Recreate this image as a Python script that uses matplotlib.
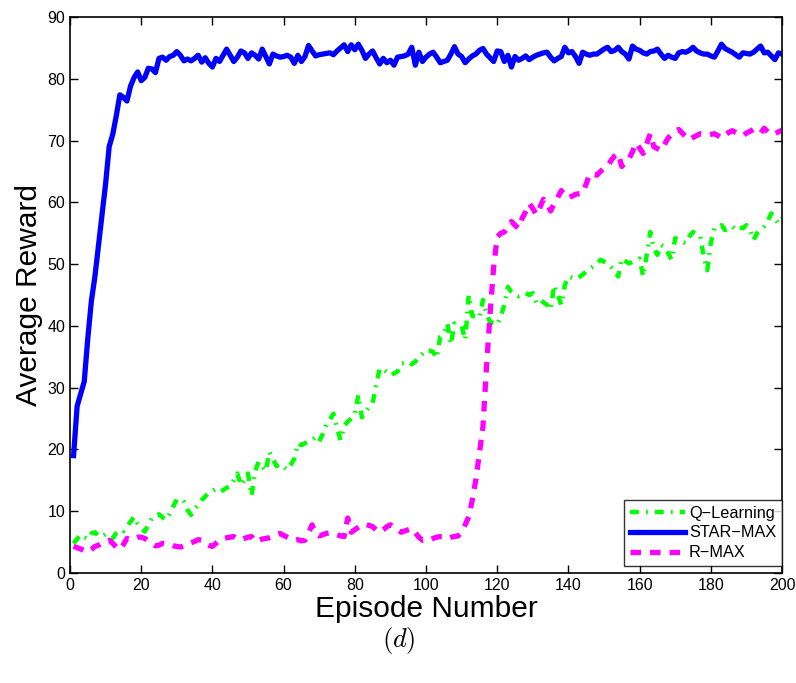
import matplotlib
matplotlib.use("Agg")
import matplotlib.pyplot as plt
import numpy as np

plt.rcParams['font.family'] = ['Liberation Sans', 'DejaVu Sans']
plt.rcParams['mathtext.fontset'] = 'cm'

episodes = list(range(1, 201))

star_max = [
    19.0, 27.0, 29.0, 31.0, 38.0, 44.0, 48.0, 53.0, 58.0, 63.0,
    69.0, 71.0, 74.0, 77.4, 77.0, 76.4, 78.8, 80.2, 81.1, 79.7,
    80.2, 81.7, 81.6, 81.0, 83.3, 83.5, 83.0, 83.6, 83.8, 84.4,
    83.8, 82.9, 83.2, 82.9, 83.3, 83.8, 82.7, 83.4, 82.5, 81.9,
    83.3, 82.8, 83.8, 84.8, 83.8, 82.8, 83.5, 84.5, 84.2, 83.3,
    84.2, 83.8, 83.2, 84.8, 83.6, 82.4, 84.0, 83.7, 83.5, 83.6,
    83.8, 83.5, 82.5, 83.8, 82.8, 83.6, 85.4, 84.5, 83.7, 83.9,
    84.0, 84.1, 84.2, 83.9, 84.5, 85.0, 85.5, 84.4, 85.5, 84.7,
    85.6, 84.6, 83.3, 84.0, 84.5, 83.4, 82.4, 83.3, 82.6, 83.0,
    82.2, 83.5, 83.6, 83.7, 84.0, 85.1, 82.2, 84.3, 82.8, 83.5,
    84.0, 84.3, 83.5, 82.6, 82.8, 83.0, 84.0, 85.2, 84.0, 83.6,
    82.6, 83.2, 83.7, 84.0, 84.6, 84.9, 84.0, 83.4, 82.8, 84.5,
    84.4, 82.8, 83.8, 81.9, 83.6, 83.0, 83.3, 83.7, 83.1, 83.5,
    83.8, 84.0, 84.2, 84.3, 83.5, 82.9, 83.3, 83.6, 85.1, 84.2,
    84.4, 83.6, 82.5, 84.3, 84.0, 83.8, 84.0, 84.0, 84.4, 84.8,
    85.1, 84.4, 84.6, 85.1, 84.4, 84.0, 83.2, 85.3, 84.8, 84.6,
    84.2, 84.0, 84.4, 84.5, 84.8, 84.0, 83.3, 83.8, 83.5, 83.3,
    84.2, 84.4, 84.3, 84.6, 85.1, 84.5, 84.2, 84.0, 84.0, 83.7,
    83.5, 84.5, 85.6, 84.9, 84.6, 84.3, 83.9, 83.5, 84.2, 84.1,
    84.0, 84.3, 84.8, 85.3, 84.2, 84.3, 83.7, 83.1, 84.2, 84.0,
]

q_learning = [
    4.8, 5.5, 6.2, 5.8, 5.5, 6.4, 6.6, 6.0, 5.9, 6.3,
    5.8, 5.6, 6.5, 7.0, 6.8, 7.6, 8.3, 9.1, 8.0, 7.3,
    6.7, 7.8, 8.9, 9.3, 9.5, 9.0, 8.6, 9.6, 10.8, 11.9,
    12.0, 11.5, 10.2, 9.4, 10.3, 11.0, 11.8, 12.4, 13.0, 13.3,
    13.6, 13.2, 13.4, 13.8, 14.0, 15.0, 16.1, 14.2, 15.0, 16.1,
    12.5, 16.5, 18.0, 17.2, 16.5, 19.6, 18.5, 17.3, 17.6, 17.2,
    16.7, 17.5, 18.5, 21.0, 20.7, 21.0, 21.3, 21.5, 22.0, 21.3,
    22.5, 24.0, 24.8, 25.8, 23.5, 21.5, 23.8, 24.5, 25.0, 25.8,
    28.8, 25.2, 26.0, 26.9, 27.5, 30.4, 33.1, 33.0, 32.5, 32.0,
    32.3, 32.6, 33.9, 34.0, 34.2, 33.8, 34.2, 35.0, 35.5, 36.1,
    36.0, 35.8, 34.8, 38.3, 38.8, 40.4, 37.0, 40.4, 40.2, 40.0,
    37.7, 45.0, 41.6, 41.5, 41.3, 44.2, 42.0, 40.6, 40.5, 40.2,
    41.5, 43.4, 46.3, 45.5, 45.0, 44.8, 45.0, 45.3, 45.0, 45.3,
    43.7, 44.2, 43.8, 43.4, 42.6, 46.6, 45.0, 43.4, 46.6, 48.0,
    47.8, 47.6, 47.9, 48.3, 48.8, 49.3, 49.6, 50.0, 50.7, 50.4,
    50.1, 49.5, 48.8, 48.0, 50.9, 50.5, 50.1, 50.4, 50.7, 50.9,
    48.0, 51.5, 55.2, 52.5, 51.5, 53.1, 52.8, 51.8, 50.7, 54.2,
    53.8, 53.6, 53.4, 54.5, 55.2, 54.9, 54.6, 51.2, 49.0, 53.4,
    55.8, 56.0, 56.3, 55.5, 55.8, 56.1, 55.6, 56.0, 55.8, 56.3,
    55.5, 53.9, 55.0, 55.6, 56.1, 57.0, 58.2, 57.4, 56.6, 57.5,
]

r_max = [
    4.3, 4.1, 3.9, 3.6, 3.4, 3.8, 4.3, 4.5, 4.9, 5.1,
    5.3, 4.8, 4.2, 3.8, 4.6, 5.6, 5.4, 5.6, 5.8, 5.8,
    5.6, 5.2, 4.8, 4.4, 4.5, 4.8, 4.7, 4.6, 4.4, 4.3,
    4.2, 4.4, 4.6, 4.9, 5.1, 5.4, 5.3, 4.8, 4.5, 4.3,
    4.8, 5.3, 5.6, 5.7, 5.8, 5.9, 5.5, 5.4, 5.6, 5.8,
    5.9, 5.1, 5.3, 5.5, 5.6, 5.7, 5.9, 6.2, 6.4, 6.1,
    5.8, 5.5, 5.3, 5.4, 5.2, 5.3, 6.5, 7.8, 6.4, 6.0,
    6.2, 6.4, 6.5, 6.4, 6.2, 6.0, 5.9, 8.9, 6.6, 7.0,
    7.4, 7.8, 7.9, 7.7, 7.5, 7.0, 6.6, 7.0, 7.5, 7.8,
    7.4, 7.0, 6.6, 6.8, 7.0, 7.2, 6.5, 5.8, 5.3, 5.4,
    5.3, 5.6, 5.8, 5.9, 5.9, 5.6, 5.8, 5.9, 6.0, 6.6,
    7.8, 9.1, 11.8, 15.1, 19.4, 23.7, 33.4, 42.0, 49.5, 54.4,
    55.0, 55.2, 56.0, 56.9, 56.3, 55.8, 57.4, 58.5, 59.8, 59.0,
    58.0, 59.2, 60.5, 59.8, 58.6, 59.8, 60.8, 61.9, 61.2, 60.7,
    61.0, 61.3, 61.4, 61.5, 63.0, 64.6, 64.5, 64.4, 65.0, 65.5,
    65.8, 66.8, 67.5, 67.9, 65.8, 66.5, 67.0, 68.2, 69.6, 68.8,
    67.9, 69.5, 71.1, 69.0, 68.7, 68.4, 69.4, 70.4, 71.0, 71.5,
    71.8, 71.2, 70.6, 70.1, 70.5, 70.8, 71.1, 71.0, 70.9, 71.0,
    71.1, 70.8, 70.4, 70.9, 71.3, 71.6, 71.3, 71.0, 70.8, 71.2,
    71.5, 71.8, 71.5, 71.2, 72.0, 71.4, 71.0, 71.1, 71.4, 71.7,
]

series_labels = ['Q\u2212Learning', 'STAR\u2212MAX', 'R\u2212MAX']
x_ticks = [0, 20, 40, 60, 80, 100, 120, 140, 160, 180, 200]
y_ticks = [0, 10, 20, 30, 40, 50, 60, 70, 80, 90]

fig = plt.figure(figsize=(7.96, 6.83), dpi=100)
ax = fig.add_axes([70 / 796, 1 - 573 / 683, 712 / 796, 556 / 683])

ax.plot(episodes, q_learning, color='#00ff00', linestyle='-.', linewidth=3.2,
        dashes=(2.0, 1.6, 0.4, 1.6), label=series_labels[0])
ax.plot(episodes, star_max, color='#0000ff', linestyle='-', linewidth=3.8,
        label=series_labels[1])
ax.plot(episodes, r_max, color='#ff00ff', linestyle='--', linewidth=3.8,
        dashes=(2.0, 1.7), label=series_labels[2])

ax.set_xlim(0, 200)
ax.set_ylim(0, 90)
ax.set_xticks(x_ticks)
ax.set_yticks(y_ticks)
ax.tick_params(direction='in', top=True, right=True, labelsize=11.5, length=6,
               width=1)
for s in ax.spines.values():
    s.set_linewidth(1.2)

ax.set_xlabel('Episode Number', fontsize=21.5, va='center')
ax.set_ylabel('Average Reward', fontsize=21.5, va='center')
ax.xaxis.set_label_coords(0.5, (573 - 609) / 556)
ax.yaxis.set_label_coords((29 - 70) / 712, 0.5)

leg = ax.legend(loc='lower right', bbox_to_anchor=(1.0, 7 / 556), fontsize=11.7,
                frameon=True, fancybox=False, edgecolor='black',
                borderaxespad=0.0, handlelength=3.4, borderpad=0.35,
                labelspacing=0.3, handletextpad=0.25)
leg.get_frame().set_linewidth(1.0)
leg._legend_box.align = 'left'

fig.text(399 / 796, 1 - 641 / 683, '$(d)$', fontsize=19, ha='center',
         va='center')

fig.savefig('out.png', dpi=100)
